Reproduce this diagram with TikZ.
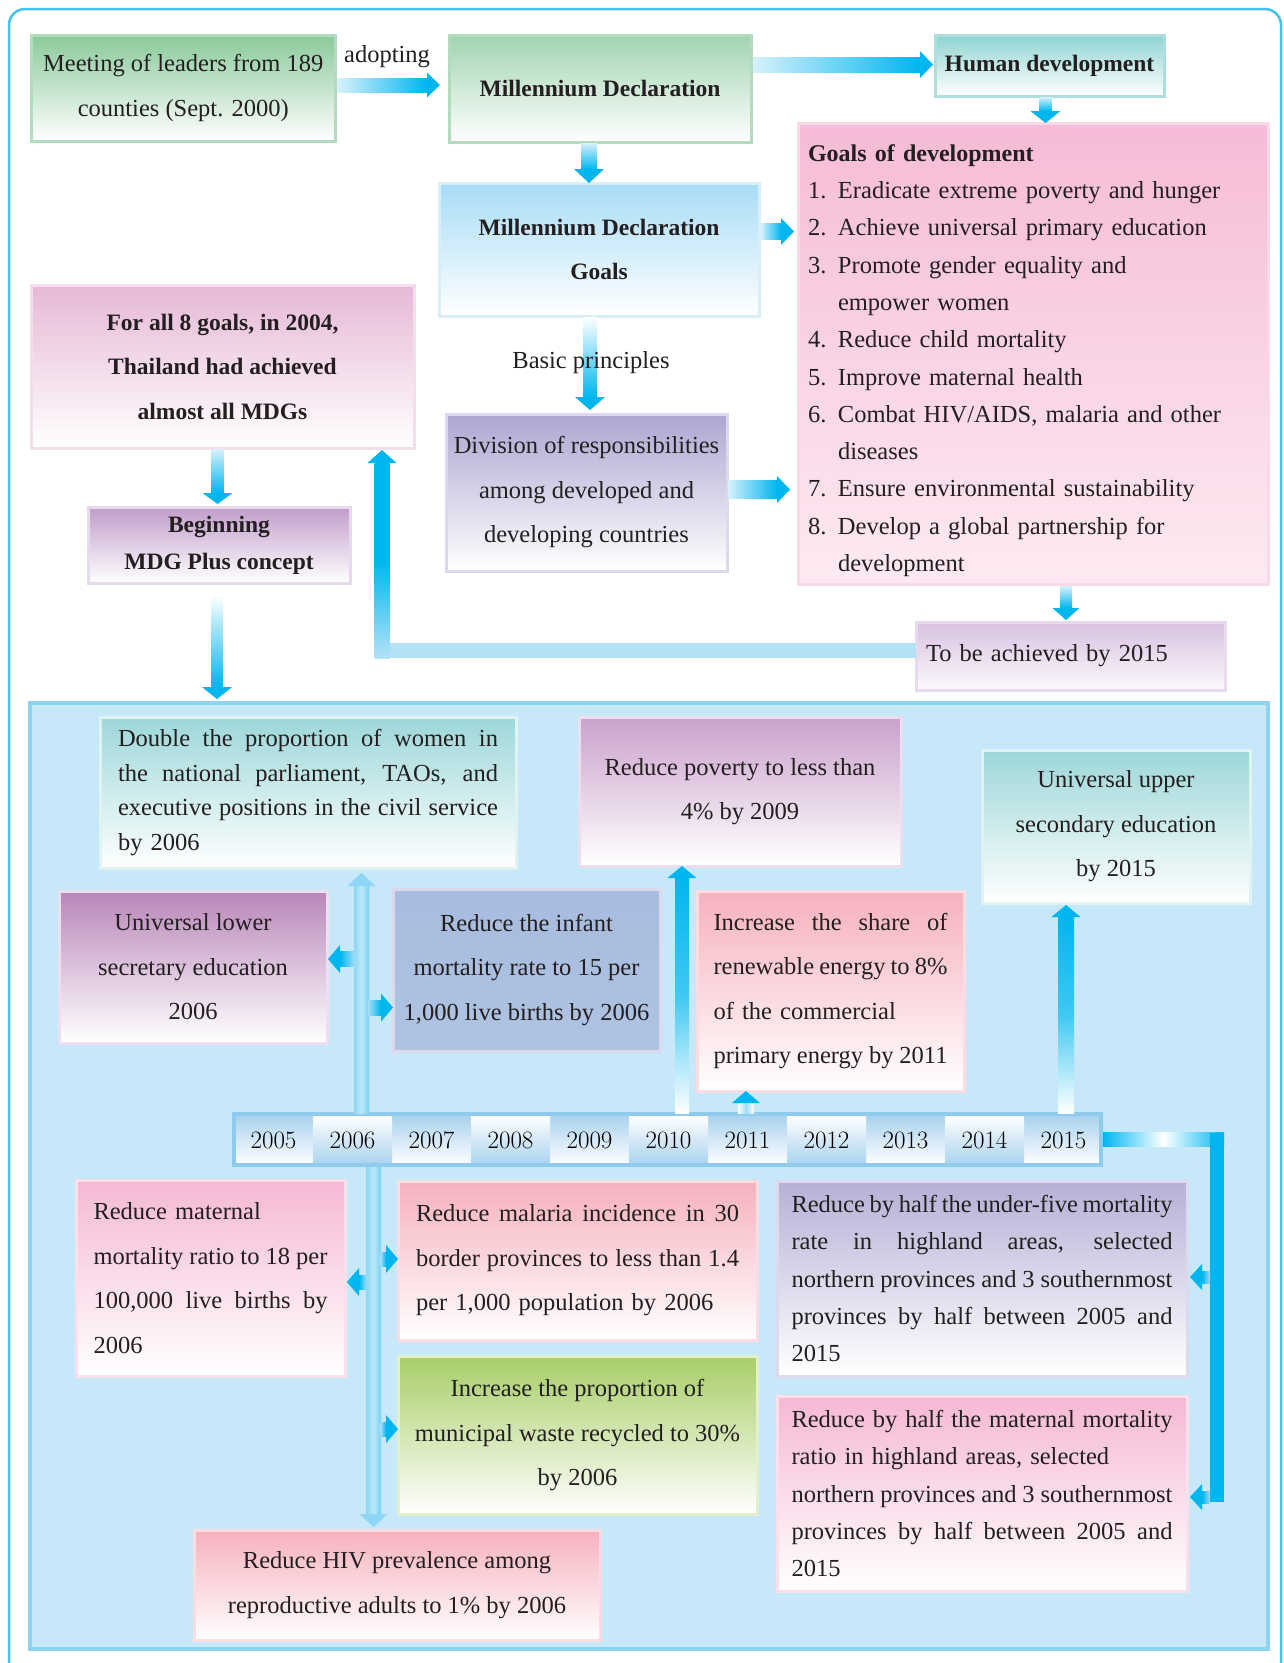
\documentclass[tikz,border=0pt]{standalone}
\usepackage{fontspec}
\newfontfamily\lib{Liberation Serif}
\usetikzlibrary{calc}
\definecolor{acyan}{HTML}{00B6EF}
\definecolor{alight}{HTML}{D6F1FC}
\definecolor{fblight}{HTML}{B3E2F7}
\definecolor{vline}{HTML}{8DD5F4}
\definecolor{vlineb}{HTML}{74CFF2}
\definecolor{vlight}{HTML}{BDE9FA}
\definecolor{vhead}{HTML}{8DD6F5}
\definecolor{sidel}{HTML}{9FDDF7}
\definecolor{framec}{HTML}{45C2EE}
\definecolor{bigf}{HTML}{C6E8F9}
\definecolor{bigb}{HTML}{8DD3F2}
\definecolor{tlb}{HTML}{8FCBEC}
\definecolor{cellc}{HTML}{A9D2EE}
\definecolor{txt}{HTML}{231F20}
\definecolor{meetT}{HTML}{8ACA9A}\definecolor{meetB}{HTML}{B3DCBF}
\definecolor{declT}{HTML}{A1D4B0}
\definecolor{humT}{HTML}{8ED4D1}\definecolor{humB}{HTML}{ACDFDB}
\definecolor{goalT}{HTML}{F6BBD6}\definecolor{goalBot}{HTML}{FDEAF2}\definecolor{goalB}{HTML}{F8D9E7}
\definecolor{mdgT}{HTML}{A7DCF6}\definecolor{mdgB}{HTML}{D8EFFA}
\definecolor{divT}{HTML}{ACA6D1}\definecolor{divB}{HTML}{DDD8EC}
\definecolor{allT}{HTML}{E6B8D6}\definecolor{allB}{HTML}{F3DEEC}
\definecolor{begT}{HTML}{C19DCA}\definecolor{begB}{HTML}{E8DAEE}
\definecolor{tobeT}{HTML}{D8C1E0}\definecolor{tobeBot}{HTML}{FCF9FD}\definecolor{tobeB}{HTML}{E6DAEE}
\definecolor{dblT}{HTML}{9DD7D9}\definecolor{dblB}{HTML}{E0F3F3}
\definecolor{povT}{HTML}{C9A1CB}\definecolor{povB}{HTML}{EBDEEF}
\definecolor{lowT}{HTML}{B886B9}\definecolor{lowB}{HTML}{EEDFF0}
\definecolor{infT}{HTML}{A7BCDE}\definecolor{infBot}{HTML}{AFC3E2}\definecolor{infB}{HTML}{DCD9EC}
\definecolor{shrT}{HTML}{F6B1BD}\definecolor{shrB}{HTML}{FBDCE1}
\definecolor{matT}{HTML}{F5B8D4}\definecolor{matB}{HTML}{FBDFEB}
\definecolor{fivT}{HTML}{B6B0D6}\definecolor{fivB}{HTML}{DEDAEE}
\definecolor{wstT}{HTML}{A7CE66}\definecolor{wstB}{HTML}{E3F0CB}

\newcommand\fntA{\lib\fontsize{24.5}{44.5}\selectfont}
\newcommand\fntB{\lib\fontsize{24.5}{37.3}\selectfont}
\newcommand\fntC{\lib\fontsize{24.5}{34.7}\selectfont}
\newcommand\fntBold{\lib\bfseries\fontsize{23.5}{44.5}\selectfont}
\newcommand\fntBoldB{\lib\bfseries\fontsize{23.5}{37.3}\selectfont}
\newlength\jwlen
\newcommand\jl[1]{\makebox[\jwlen][s]{\spaceskip=.25em plus 1fil minus .1em\relax #1}}
\newcommand\nm[1]{\makebox[30pt][l]{#1}}

% block arrows: #1 start, #2 tip, #3 shaft half, #4 head half, #5 head length, #6 shaft shading, #7 head colour
\newcommand\arrR[7]{%
 \path[#6] let \p1=#1, \p2=#2 in (\x1,\y1-#3) rectangle (\x2-#5,\y1+#3);
 \fill[#7] let \p1=#1, \p2=#2 in (\x2-#5,\y1-#4) -- (\x2,\y1) -- (\x2-#5,\y1+#4) -- cycle;}
\newcommand\arrL[7]{%
 \path[#6] let \p1=#1, \p2=#2 in (\x2+#5,\y1-#3) rectangle (\x1,\y1+#3);
 \fill[#7] let \p1=#1, \p2=#2 in (\x2+#5,\y1-#4) -- (\x2,\y1) -- (\x2+#5,\y1+#4) -- cycle;}
\newcommand\arrU[7]{%
 \path[#6] let \p1=#1, \p2=#2 in (\x1-#3,\y1) rectangle (\x1+#3,\y2-#5);
 \fill[#7] let \p1=#1, \p2=#2 in (\x1-#4,\y2-#5) -- (\x1,\y2) -- (\x1+#4,\y2-#5) -- cycle;}
\newcommand\arrD[7]{%
 \path[#6] let \p1=#1, \p2=#2 in (\x1-#3,\y1) rectangle (\x1+#3,\y2+#5);
 \fill[#7] let \p1=#1, \p2=#2 in (\x1-#4,\y2+#5) -- (\x1,\y2) -- (\x1+#4,\y2+#5) -- cycle;}

\tikzset{
 bx/.style n args={3}{draw=#3, line width=3pt, top color=#1, bottom color=#2, inner sep=0pt, outer sep=0pt, anchor=north west, text=txt},
 sz/.style 2 args={minimum width=#1pt, minimum height=#2pt},
 tw/.style={text width=#1pt, align=left},
 cellA/.style={top color=cellc, bottom color=white, minimum width=79pt, minimum height=50pt, inner sep=0pt, outer sep=0pt, text=black, font=\fontsize{25}{28}\selectfont},
 cellB/.style={top color=white, bottom color=cellc, minimum width=79pt, minimum height=50pt, inner sep=0pt, outer sep=0pt, text=black, font=\fontsize{25}{28}\selectfont},
 lbl/.style={text=txt, font=\fntA, inner sep=0pt},
 vshade/.style={left color=vline, right color=vlineb, middle color=vlight},
}

\begin{document}
\begin{tikzpicture}[x=1pt, y=-1pt]
\clip (0,0) rectangle (1283,1663);
\fill[white] (0,0) rectangle (1283,1663);
\draw[framec, line width=2.5pt, rounded corners=16pt] (9,9) rectangle (1281,1720);

% ---------- top part ----------
\node[bx={meetT}{white}{meetB}, sz={304.5}{106}, font=\fntA, align=center] (meet) at (31,35)
 {Meeting of leaders from 189\\counties (Sept. 2000)};
\node[bx={declT}{white}{meetB}, sz={302}{107}, font=\fntBold, align=center] (decl) at (449,35)
 {Millennium Declaration};
\node[bx={humT}{white}{humB}, sz={229}{61}, font=\fntBold, align=center] (human) at (935,35)
 {Human development};
\node[bx={goalT}{goalBot}{goalB}, sz={470}{461}, font=\fntB, tw=450] (goals) at (798,123)
 {\rule{0pt}{31pt}{\bfseries\fontsize{24}{37.3}\selectfont Goals of development}\\
  \nm{1.}Eradicate extreme poverty and hunger\\
  \nm{2.}Achieve universal primary education\\
  \nm{3.}Promote gender equality and\\
  \hspace*{30pt}empower women\\
  \nm{4.}Reduce child mortality\\
  \nm{5.}Improve maternal health\\
  \nm{6.}Combat HIV/AIDS, malaria and other\\
  \hspace*{30pt}diseases\\
  \nm{7.}Ensure environmental sustainability\\
  \nm{8.}Develop a global partnership for\\
  \hspace*{30pt}development};
\node[bx={mdgT}{white}{mdgB}, sz={320}{133}, font=\fntBold, align=center] (mdg) at (439,183)
 {Millennium Declaration\\Goals};
\node[bx={divT}{white}{divB}, sz={281}{157}, font=\fntA, align=center] (div) at (446,414)
 {Division of responsibilities\\among developed and\\developing countries};
\node[bx={allT}{white}{allB}, sz={383}{163}, font=\fntBold, align=center] (forall) at (31,285)
 {For all 8 goals, in 2004,\\Thailand had achieved\\almost all MDGs};
\node[bx={begT}{white}{begB}, sz={262}{76}, font=\fntBoldB, align=center] (beg) at (88,507)
 {Beginning\\MDG Plus concept};
\node[bx={tobeT}{tobeBot}{tobeB}, sz={309}{68}, font=\fntA, tw=289] (tobe) at (916,622)
 {To be achieved by 2015};

% ---------- bottom part ----------
\node[draw=bigb, fill=bigf, line width=4pt, anchor=north west, minimum width=1238pt, minimum height=946pt, inner sep=0pt, outer sep=0pt] (big) at (30,703) {};

\node[bx={dblT}{white}{dblB}, sz={416}{151}, font=\fntC, tw=380] (dbl) at (100,717)
 {\setlength\jwlen{380pt}%
  \jl{Double the proportion of women in}\\
  \jl{the national parliament, TAOs, and}\\
  \jl{executive positions in the civil service}\\
  by 2006};
\node[bx={povT}{white}{povB}, sz={322}{149}, font=\fntA, align=center] (poverty) at (579,717)
 {Reduce poverty to less than\\4\% by 2009};
\node[bx={dblT}{white}{dblB}, sz={268}{153}, font=\fntA, align=center] (upper) at (982,750)
 {Universal upper\\secondary education\\by 2015};
\node[bx={lowT}{white}{lowB}, sz={268}{152}, font=\fntA, align=center] (lower) at (59,891)
 {Universal lower\\secretary education\\2006};
\node[bx={infT}{infBot}{infB}, sz={267}{162}, font=\fntA, align=center] (infant) at (393,889)
 {Reduce the infant\\mortality rate to 15 per\\1,000 live births by 2006};
\node[bx={shrT}{white}{shrB}, sz={267}{200}, font=\fntA, tw=234] (share) at (697,891)
 {\setlength\jwlen{234pt}%
  \jl{Increase the share of}\\
  \jl{renewable energy to 8\%}\\
  of the commercial\\
  \jl{primary energy by 2011}};

% timeline
\foreach \yr/\i in {2005/0,2007/2,2009/4,2011/6,2013/8,2015/10}
 \node[cellA] (c\yr) at (273.5+79*\i,1140) {\yr};
\foreach \yr/\i in {2006/1,2008/3,2010/5,2012/7,2014/9}
 \node[cellB] (c\yr) at (273.5+79*\i,1140) {\yr};
\node[draw=tlb, line width=4pt, anchor=north west, minimum width=867pt, minimum height=51pt, inner sep=0pt, outer sep=0pt] (tl) at (234,1114) {};

\node[bx={matT}{white}{matB}, sz={269}{196}, font=\fntA, tw=234] (maternal) at (76,1180)
 {\setlength\jwlen{234pt}%
  Reduce maternal\\
  \jl{mortality ratio to 18 per}\\
  \jl{100,000 live births by}\\
  2006};
\node[bx={shrT}{white}{shrB}, sz={359}{159}, font=\fntA, tw=323] (malaria) at (398,1181)
 {\setlength\jwlen{323pt}%
  \jl{Reduce malaria incidence in 30}\\
  \jl{border provinces to less than 1.4}\\
  per 1,000 population by 2006};
\node[bx={fivT}{white}{fivB}, sz={410}{195}, font=\fntB, tw=381] (underfive) at (777,1181)
 {\setlength\jwlen{381pt}%
  \jl{Reduce by half the under-five mortality}\\
  \jl{rate in highland areas, selected}\\
  \jl{northern provinces and 3 southernmost}\\
  \jl{provinces by half between 2005 and}\\
  2015};
\node[bx={wstT}{white}{wstB}, sz={359}{158}, font=\fntA, align=center] (waste) at (398,1356)
 {Increase the proportion of\\municipal waste recycled to 30\%\\by 2006};
\node[bx={matT}{white}{matB}, sz={410}{195}, font=\fntB, tw=381] (halfmat) at (777,1396)
 {\setlength\jwlen{381pt}%
  \jl{Reduce by half the maternal mortality}\\
  ratio in highland areas, selected\\
  \jl{northern provinces and 3 southernmost}\\
  \jl{provinces by half between 2005 and}\\
  2015};
\node[bx={shrT}{white}{shrB}, sz={406}{110}, font=\fntA, align=center] (hiv) at (194,1530)
 {Reduce HIV prevalence among\\reproductive adults to 1\% by 2006};

% ---------- arrows: top ----------
\arrR{($(meet.east)+(2,-3)$)}{($(decl.west)+(-9,0)$)}{7pt}{12.5pt}{13pt}{left color=alight,right color=acyan}{acyan}
\arrR{($(decl.east)+(2,-24)$)}{($(human.west)+(-2,0)$)}{7.5pt}{13.5pt}{13pt}{left color=alight,right color=acyan}{acyan}
\arrD{($(human.south)+(-4,1)$)}{(goals.north)}{6pt}{15pt}{12pt}{top color=alight,bottom color=acyan}{acyan}
\arrD{($(decl.south)+(-11,1)$)}{(mdg.north)}{8pt}{15pt}{14pt}{top color=alight,bottom color=acyan}{acyan}
\arrR{($(mdg.east)+(2,-18)$)}{($(goals.west)+(-4,0)$)}{8pt}{13.5pt}{13pt}{left color=alight,right color=acyan}{acyan}
\arrD{($(mdg.south)+(-9,1)$)}{($(div.north)+(0,-4)$)}{7pt}{15pt}{13pt}{top color=white,bottom color=acyan}{acyan}
\arrR{($(div.east)+(1,-3)$)}{($(goals.west)+(-8,0)$)}{9pt}{13.5pt}{13pt}{left color=alight,right color=acyan}{acyan}
\arrD{($(forall.south)+(-5,1)$)}{($(beg.north)+(0,-3)$)}{6pt}{15pt}{11pt}{top color=alight,bottom color=acyan}{acyan}
\arrD{($(beg.south)+(-2,12)$)}{($(big.north)+(0,-4)$)}{6pt}{15pt}{12pt}{top color=white,bottom color=acyan}{acyan}
\arrD{($(goals.south)+(33,2)$)}{($(tobe.north)+(0,-2)$)}{6pt}{13.5pt}{12pt}{top color=alight,bottom color=acyan}{acyan}

% feedback loop
\coordinate (fbk) at (382,650.5);
\fill[fblight] ($(fbk)+(-7.5,-7.5)$) rectangle ($(tobe.west |- fbk)+(0,7.5)$);
\arrU{($(fbk)+(0,7.5)$)}{($(fbk |- forall.south)+(0,2)$)}{7.5pt}{14.5pt}{13pt}{bottom color=fblight,top color=acyan,middle color=acyan}{acyan}

\node[lbl] (adopt) at (387,57) {adopting};
\node[lbl] (basic) at (591,363) {Basic principles};

% ---------- arrows: timeline ----------
\coordinate (v6) at ($(c2006.north)+(9,0)$);
\coordinate (v6b) at ($(c2006.south)+(21,0)$);
\arrU{($(c2006.north)+(9,-2)$)}{($(dbl.south)+(0,5)$)}{7.5pt}{14pt}{13pt}{vshade}{vhead}
\arrD{($(c2006.south)+(21,2)$)}{($(hiv.north)+(0,-3)$)}{7.5pt}{14pt}{13pt}{vshade}{vhead}
\arrL{($(v6 |- lower.east)+(-7,-8)$)}{($(lower.east)+(1,0)$)}{7.5pt}{14pt}{12pt}{left color=acyan,right color=sidel}{acyan}
\arrR{($(v6 |- infant.west)+(7,37.5)$)}{(infant.west)}{7.5pt}{14pt}{12pt}{left color=sidel,right color=acyan}{acyan}
\arrL{($(v6b |- maternal.east)+(-7,4)$)}{($(maternal.east)+(2,0)$)}{7pt}{14pt}{12pt}{left color=acyan,right color=sidel}{acyan}
\arrR{($(v6b |- malaria.west)+(7,-1.5)$)}{(malaria.west)}{7pt}{14pt}{12pt}{left color=sidel,right color=acyan}{acyan}
\arrR{($(v6b |- waste.west)+(7,-6)$)}{(waste.west)}{7pt}{14pt}{12pt}{left color=sidel,right color=acyan}{acyan}

\arrU{($(c2010.north)+(13.5,-2)$)}{(poverty.south)}{7pt}{14.5pt}{12pt}{bottom color=white,top color=acyan,middle color=acyan!75!white}{acyan}
\arrU{($(c2011.north)+(-1.5,-2)$)}{(share.south)}{8pt}{14pt}{12pt}{left color=white,right color=white,middle color=sidel}{acyan}
\arrU{($(c2015.north)+(2.5,-2)$)}{($(upper.south)+(0,2)$)}{8pt}{14.5pt}{12pt}{bottom color=white,top color=acyan,middle color=acyan!75!white}{acyan}

% right connector
\coordinate (rc) at ($(tl.east)+(116,0)$);
\path[left color=acyan,right color=acyan,middle color=white] ($(tl.east)+(2,-7)$) rectangle ($(rc)+(7,7)$);
\fill[acyan] ($(rc)+(-7,-7)$) rectangle ($(rc |- halfmat.east)+(7,8)$);
\arrL{($(rc |- underfive.east)+(-7,-1.5)$)}{($(underfive.east)+(3,0)$)}{6pt}{13pt}{12pt}{left color=acyan,right color=sidel}{acyan}
\arrL{($(rc |- halfmat.east)+(-7,3.5)$)}{($(halfmat.east)+(3,0)$)}{6pt}{13pt}{12pt}{left color=acyan,right color=sidel}{acyan}
\end{tikzpicture}
\end{document}
